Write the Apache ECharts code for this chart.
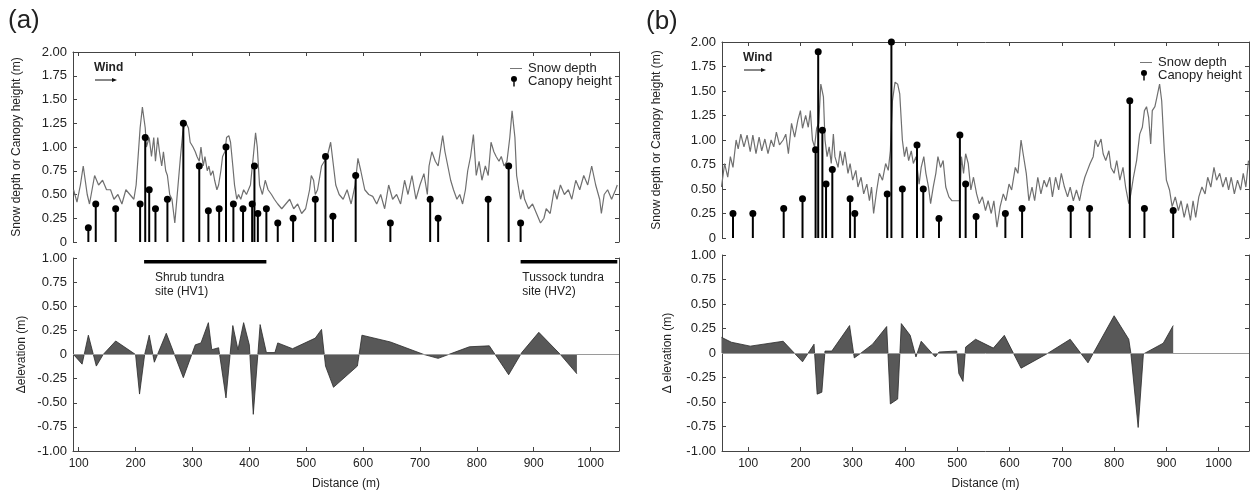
<!DOCTYPE html>
<html><head><meta charset="utf-8">
<script src="https://cdn.jsdelivr.net/npm/echarts@6/dist/echarts.min.js"></script>
<style>html,body{margin:0;padding:0;background:#fff}#c{width:1254px;height:493px}</style>
</head><body><div id="c"></div>
<script>
// ---------------- DATA ----------------
const xTickValues = [100,200,300,400,500,600,700,800,900,1000];

const snowDepthA = [[91,0.55],[97,0.42],[103,0.6],[108,0.8],[115,0.5],[119,0.4],[128,0.7],[135,0.6],[142,0.65],[149,0.55],[156,0.55],[162,0.45],[169,0.5],[176,0.4],[183,0.55],[190,0.5],[197,0.45],[201,0.6],[208,1.2],[212,1.42],[217,1.2],[219,1.0],[224,1.1],[228,0.9],[232,1.1],[235,0.85],[239,1.1],[242,0.95],[246,0.8],[249,0.95],[253,0.75],[256,0.7],[260,0.5],[264,0.45],[269,0.2],[274,0.55],[279,0.9],[283,1.15],[287,1.27],[293,1.2],[296,1.05],[301,1.0],[305,0.95],[308,0.9],[312,0.85],[315,1.0],[319,0.8],[322,0.9],[326,0.75],[329,0.8],[332,0.7],[336,0.75],[339,0.65],[343,0.55],[346,0.6],[350,0.75],[353,0.9],[357,0.95],[360,1.1],[364,1.12],[367,1.05],[371,0.8],[374,0.6],[378,0.45],[381,0.5],[385,0.45],[390,0.55],[395,0.5],[402,0.6],[407,0.9],[411,1.15],[414,1.0],[418,0.6],[423,0.5],[428,0.65],[433,0.55],[439,0.5],[444,0.45],[450,0.4],[457,0.35],[464,0.4],[471,0.45],[478,0.35],[485,0.4],[492,0.3],[499,0.35],[506,0.55],[509,0.7],[513,0.65],[516,0.5],[520,0.55],[527,0.8],[532,0.85],[537,0.9],[543,1.05],[548,0.8],[552,0.6],[558,0.5],[565,0.45],[572,0.55],[579,0.4],[586,0.6],[591,0.88],[596,0.75],[603,0.55],[610,0.5],[617,0.48],[624,0.4],[631,0.5],[638,0.35],[645,0.6],[652,0.45],[659,0.5],[666,0.4],[673,0.65],[679,0.5],[686,0.7],[693,0.45],[700,0.6],[707,0.72],[713,0.5],[716,0.8],[721,0.95],[727,0.85],[732,0.8],[737,1.0],[740,1.12],[744,0.95],[749,0.8],[754,0.65],[759,0.55],[765,0.45],[770,0.5],[775,0.4],[780,0.55],[784,0.75],[789,0.9],[794,1.13],[799,0.7],[804,0.85],[809,0.65],[815,0.8],[820,0.7],[825,1.05],[830,0.95],[834,0.9],[839,0.85],[843,0.9],[848,0.8],[853,0.85],[858,1.1],[862,1.38],[867,1.1],[870,0.7],[874,0.55],[877,0.45],[881,0.55],[884,0.45],[891,0.35],[898,0.4],[905,0.3],[912,0.2],[918,0.25],[922,0.35],[929,0.3],[936,0.55],[941,0.45],[947,0.6],[954,0.5],[961,0.55],[967,0.45],[974,0.65],[981,0.55],[988,0.7],[995,0.6],[1002,0.8],[1009,0.6],[1016,0.45],[1019,0.3],[1024,0.5],[1030,0.55],[1037,0.45],[1044,0.55],[1047,0.6]];

const canopyXA = [117,130,165,208,217,224,235,256,284,312,328,347,359,372,389,405,409,415,430,450,477,516,534,547,587,648,718,732,820,856,877];
const canopyHA = [0.15,0.40,0.35,0.40,1.10,0.55,0.35,0.45,1.25,0.80,0.33,0.35,1.00,0.40,0.35,0.40,0.80,0.30,0.35,0.20,0.25,0.45,0.90,0.27,0.70,0.20,0.45,0.25,0.45,0.80,0.20];

const elevA = [[91,0],[106,-0.1],[117,0.2],[131,-0.12],[143,0],[165,0.14],[200,0],[207,-0.41],[210,-0.4],[216,0],[224,0.2],[233,-0.08],[254,0.22],[284,-0.24],[305,0.1],[315,0.12],[328,0.33],[334,0.05],[346,0.07],[359,-0.45],[371,0.3],[380,0.05],[390,0.33],[400,0.1],[407,-0.62],[419,0.31],[430,0.02],[445,0.02],[450,0.12],[476,0.06],[516,0.17],[527,0.26],[534,-0.12],[548,-0.34],[590,-0.12],[598,0.2],[648,0.13],[707,0],[732,-0.04],[787,0.08],[822,0.09],[856,-0.21],[879,0.02],[909,0.23],[947,0],[976,-0.2]];

const snowDepthB = [[49,0.52],[55,0.76],[61,0.62],[66,0.83],[71,0.72],[77,1.0],[81,0.91],[86,1.06],[92,0.93],[98,1.05],[104,0.88],[109,1.05],[115,0.86],[121,1.03],[126,0.89],[132,1.01],[138,0.86],[144,1.0],[149,0.93],[154,1.08],[160,0.95],[167,1.0],[172,1.06],[177,0.86],[183,1.17],[189,1.03],[195,1.2],[200,1.3],[204,1.12],[210,1.25],[215,1.13],[219,1.3],[223,1.0],[227,0.93],[231,1.12],[235,1.17],[239,1.57],[244,1.44],[247,1.0],[251,0.83],[255,0.93],[259,0.76],[263,1.06],[266,0.83],[272,0.72],[276,0.89],[281,0.74],[285,0.88],[291,0.66],[295,0.76],[300,0.59],[306,0.69],[310,0.52],[316,0.62],[321,0.45],[327,0.55],[332,0.38],[336,0.52],[340,0.25],[346,0.49],[351,0.66],[357,0.59],[363,0.76],[368,0.69],[372,0.89],[376,1.4],[381,1.59],[386,1.57],[390,1.47],[395,1.0],[399,0.83],[403,0.93],[407,0.79],[412,0.89],[416,0.76],[421,0.83],[427,0.55],[431,0.72],[436,0.83],[440,0.66],[445,0.52],[449,0.35],[454,0.52],[459,0.66],[463,0.83],[468,0.72],[473,0.79],[478,0.52],[484,0.42],[490,0.38],[497,0.38],[505,0.38],[508,0.83],[512,0.66],[516,0.86],[521,0.76],[526,0.49],[531,0.62],[537,0.45],[542,0.35],[548,0.42],[554,0.28],[559,0.38],[565,0.25],[570,0.38],[576,0.11],[582,0.32],[588,0.45],[593,0.38],[599,0.55],[604,0.49],[611,0.72],[616,0.66],[622,1.0],[626,0.86],[632,0.66],[637,0.38],[643,0.52],[648,0.38],[654,0.62],[660,0.45],[666,0.59],[671,0.52],[677,0.62],[682,0.42],[688,0.62],[694,0.49],[699,0.66],[705,0.52],[711,0.42],[716,0.52],[722,0.38],[728,0.49],[734,0.38],[739,0.52],[744,0.62],[749,0.69],[754,0.76],[760,0.83],[764,1.0],[769,0.93],[775,1.01],[779,0.86],[784,0.79],[790,0.89],[794,0.72],[800,0.66],[805,0.79],[811,0.59],[817,0.72],[822,0.52],[828,0.35],[832,0.45],[837,0.62],[843,0.79],[849,1.06],[854,1.13],[858,1.3],[862,1.34],[866,1.23],[870,0.96],[873,1.3],[878,1.34],[882,1.44],[887,1.57],[891,1.4],[896,0.89],[900,0.59],[906,0.49],[911,0.32],[917,0.42],[923,0.28],[928,0.38],[934,0.21],[940,0.35],[946,0.18],[951,0.38],[956,0.21],[962,0.42],[968,0.52],[974,0.45],[979,0.62],[985,0.52],[991,0.72],[996,0.59],[1002,0.66],[1008,0.52],[1014,0.62],[1019,0.49],[1024,0.62],[1030,0.45],[1036,0.59],[1042,0.49],[1047,0.66],[1052,0.52],[1057,0.79]];

const canopyXB = [71,109,168,204,229,234,242,249,261,295,304,366,374,395,423,435,465,505,516,536,592,624,717,753,830,858,913];
const canopyHB = [0.25,0.25,0.30,0.40,0.90,1.90,1.10,0.55,0.70,0.40,0.25,0.45,2.00,0.50,0.95,0.50,0.20,1.05,0.55,0.22,0.25,0.30,0.30,0.30,1.40,0.30,0.28];

const elevB = [[49,0.16],[68,0.11],[104,0.07],[167,0.12],[204,-0.09],[226,0.09],[232,-0.42],[241,-0.4],[247,0.02],[260,0.02],[294,0.28],[303,-0.05],[316,0],[338,0.09],[365,0.27],[372,-0.52],[386,-0.47],[393,0.3],[410,0.18],[421,-0.04],[431,0.12],[458,-0.04],[465,0.01],[499,0.02],[503,-0.21],[511,-0.29],[516,0.06],[535,0.14],[569,0.05],[590,0.18],[622,-0.155],[671,-0.01],[716,0.14],[750,-0.1],[800,0.38],[828,0.14],[832,0],[846,-0.76],[856,-0.01],[894,0.1],[913,0.28]];

const shrubSite = [[215,0.96],[430,0.96]];
const tussockSite = [[877,0.96],[1047,0.96]];
const siteLabels = [{text:'Shrub tundra\nsite (HV1)', x:234}, {text:'Tussock tundra\nsite (HV2)', x:880}];

// ---------------- CHART ----------------
const FONT = '"Liberation Sans", Arial, Helvetica, sans-serif';
const AX = '#444', TXT = '#222';
const chart = echarts.init(document.getElementById('c'), null, {renderer:'canvas'});

function pairs(xs, ys){ return xs.map((x,i)=>[x, ys[i]]); }

function xAx(grid, pos, min, max, labels, name){
  return {type:'value', gridIndex:grid, position:pos, min:min, max:max,
    axisLine:{show:true, onZero:false, lineStyle:{color:AX, width:1}},
    axisTick:{show:true, inside:true, length:4, customValues:xTickValues, lineStyle:{color:AX}},
    axisLabel:{show:labels, customValues:xTickValues, margin:7, fontSize:12, color:TXT, fontFamily:FONT,
      formatter:v=>String(Math.round(v))},
    splitLine:{show:false},
    name:name||'', nameLocation:'middle', nameGap:27,
    nameTextStyle:{fontSize:12, color:TXT, fontFamily:FONT}};
}
function yAx(grid, pos, min, max, labels, name, gap){
  return {type:'value', gridIndex:grid, position:pos, min:min, max:max, interval:0.25,
    axisLine:{show:true, onZero:false, lineStyle:{color:AX, width:1}},
    axisTick:{show:true, inside:true, length:4, lineStyle:{color:AX}},
    axisLabel:{show:labels, margin:6, fontSize:13, color:TXT, fontFamily:FONT,
      formatter:v=> Math.abs(v)<1e-9 ? '0' : v.toFixed(2)},
    splitLine:{show:false},
    name:name||'', nameLocation:'middle', nameGap:gap||0, nameRotate:90,
    nameTextStyle:{fontSize:12, color:TXT, fontFamily:FONT}};
}

const pinIcon = 'path://M0,0L0.01,0L0.01,0.01Z M14,12L13.99,12L13.99,11.99Z M5,0.6A3,3 0 1 1 4.99,0.6Z M4.3,5L5.7,5L5.7,11L4.3,11Z';
const lineIcon = 'path://M0,0L0.01,0L0.01,0.01Z M14,12L13.99,12L13.99,11.99Z M1,5.5L13,5.5L13,6.4L1,6.4Z';

function legendAt(left, top){
  return {left:left, top:top, orient:'vertical', itemGap:0, itemWidth:14, itemHeight:12, padding:0,
    selectedMode:false, textStyle:{fontSize:13, color:TXT, fontFamily:FONT, lineHeight:12},
    data:[{name:'Snow depth', icon:lineIcon, itemStyle:{color:'#777'}},
          {name:'Canopy height', icon:pinIcon, itemStyle:{color:'#000'}}]};
}

function snowSeries(xi, yi, data){
  return {name:'Snow depth', type:'line', xAxisIndex:xi, yAxisIndex:yi, data:data, symbol:'none',
    lineStyle:{color:'#6f6f6f', width:1.2}, itemStyle:{color:'#6f6f6f'}, z:2, animation:false};
}
function stemSeries(xi, yi, data){
  return {type:'bar', xAxisIndex:xi, yAxisIndex:yi, data:data, barWidth:2,
    itemStyle:{color:'#000'}, z:3, animation:false};
}
function dotSeries(xi, yi, data){
  return {name:'Canopy height', type:'scatter', xAxisIndex:xi, yAxisIndex:yi, data:data,
    symbol:'circle', symbolSize:7, itemStyle:{color:'#000', opacity:1}, z:4, clip:false, animation:false};
}
function elevSeries(xi, yi, data){
  return {type:'line', xAxisIndex:xi, yAxisIndex:yi, data:data, symbol:'none',
    lineStyle:{color:'#2a2a2a', width:0.8}, areaStyle:{color:'#585858', opacity:1, origin:0},
    z:2, animation:false,
    markLine:{silent:true, symbol:['none','none'], label:{show:false}, animation:false,
      lineStyle:{color:'#9a9a9a', width:1, type:'solid'}, data:[{yAxis:0}]}};
}
function siteSeries(xi, yi, data){
  return {type:'line', xAxisIndex:xi, yAxisIndex:yi, data:data, symbol:'none',
    lineStyle:{color:'#000', width:3.5}, z:5, animation:false};
}

const option = {
  backgroundColor:'#fff',
  animation:false,
  textStyle:{fontFamily:FONT},
  grid:[
    {left:73, top:52, width:546, height:190, outerBoundsMode:'none'},
    {left:73, top:258, width:546, height:193, outerBoundsMode:'none'},
    {left:722, top:42, width:527, height:196, outerBoundsMode:'none'},
    {left:722, top:255, width:527, height:196, outerBoundsMode:'none'}
  ],
  xAxis:[
    xAx(0,'top',90,1050,false),
    xAx(1,'bottom',90,1050,true,'Distance (m)'),
    xAx(2,'top',50,1058,false),
    xAx(3,'bottom',50,1058,true,'Distance (m)')
  ],
  yAxis:[
    yAx(0,'left',0,2,true,'Snow depth or Canopy height (m)',50),
    yAx(0,'right',0,2,false),
    yAx(1,'left',-1,1,true,'\u0394elevation (m)',45),
    yAx(1,'right',-1,1,false),
    yAx(2,'left',0,2,true,'Snow depth or Canopy height (m)',59),
    yAx(2,'right',0,2,false),
    yAx(3,'left',-1,1,true,'\u0394 elevation (m)',48),
    yAx(3,'right',-1,1,false)
  ],
  legend:[legendAt(509,62), legendAt(1139,56)],
  series:[
    snowSeries(0,0,snowDepthA),
    stemSeries(0,0,pairs(canopyXA,canopyHA)),
    dotSeries(0,0,pairs(canopyXA,canopyHA)),
    elevSeries(1,2,elevA),
    siteSeries(1,2,shrubSite),
    siteSeries(1,2,tussockSite),
    snowSeries(2,4,snowDepthB),
    stemSeries(2,4,pairs(canopyXB,canopyHB)),
    dotSeries(2,4,pairs(canopyXB,canopyHB)),
    elevSeries(3,6,elevB)
  ]
};
chart.setOption(option);

// annotations
const g = [];
function txt(x,y,s,extra){ return Object.assign({type:'text', x:x, y:y, silent:true,
  style:Object.assign({text:s, fill:TXT, font:'12px '+FONT}, extra||{})}); }
g.push(txt(8,8,'(a)',{font:'26px '+FONT}));
g.push(txt(646,9,'(b)',{font:'26px '+FONT}));
function wind(x,y){
  g.push(txt(x,y-6,'Wind',{font:'bold 12px '+FONT, textVerticalAlign:'top'}));
  g.push({type:'line', silent:true, shape:{x1:x+1,y1:y+12,x2:x+20,y2:y+12}, style:{stroke:'#111', lineWidth:1}});
  g.push({type:'polygon', silent:true, shape:{points:[[x+23,y+12],[x+18,y+10],[x+18,y+14]]}, style:{fill:'#111'}});
}
wind(94,68);
wind(743,58);
siteLabels.forEach(s=>{
  const p = chart.convertToPixel({gridIndex:1}, [s.x, 0.87]);
  g.push(txt(p[0], p[1], s.text, {lineHeight:14, textVerticalAlign:'top'}));
});
chart.setOption({graphic:g});
</script></body></html>
